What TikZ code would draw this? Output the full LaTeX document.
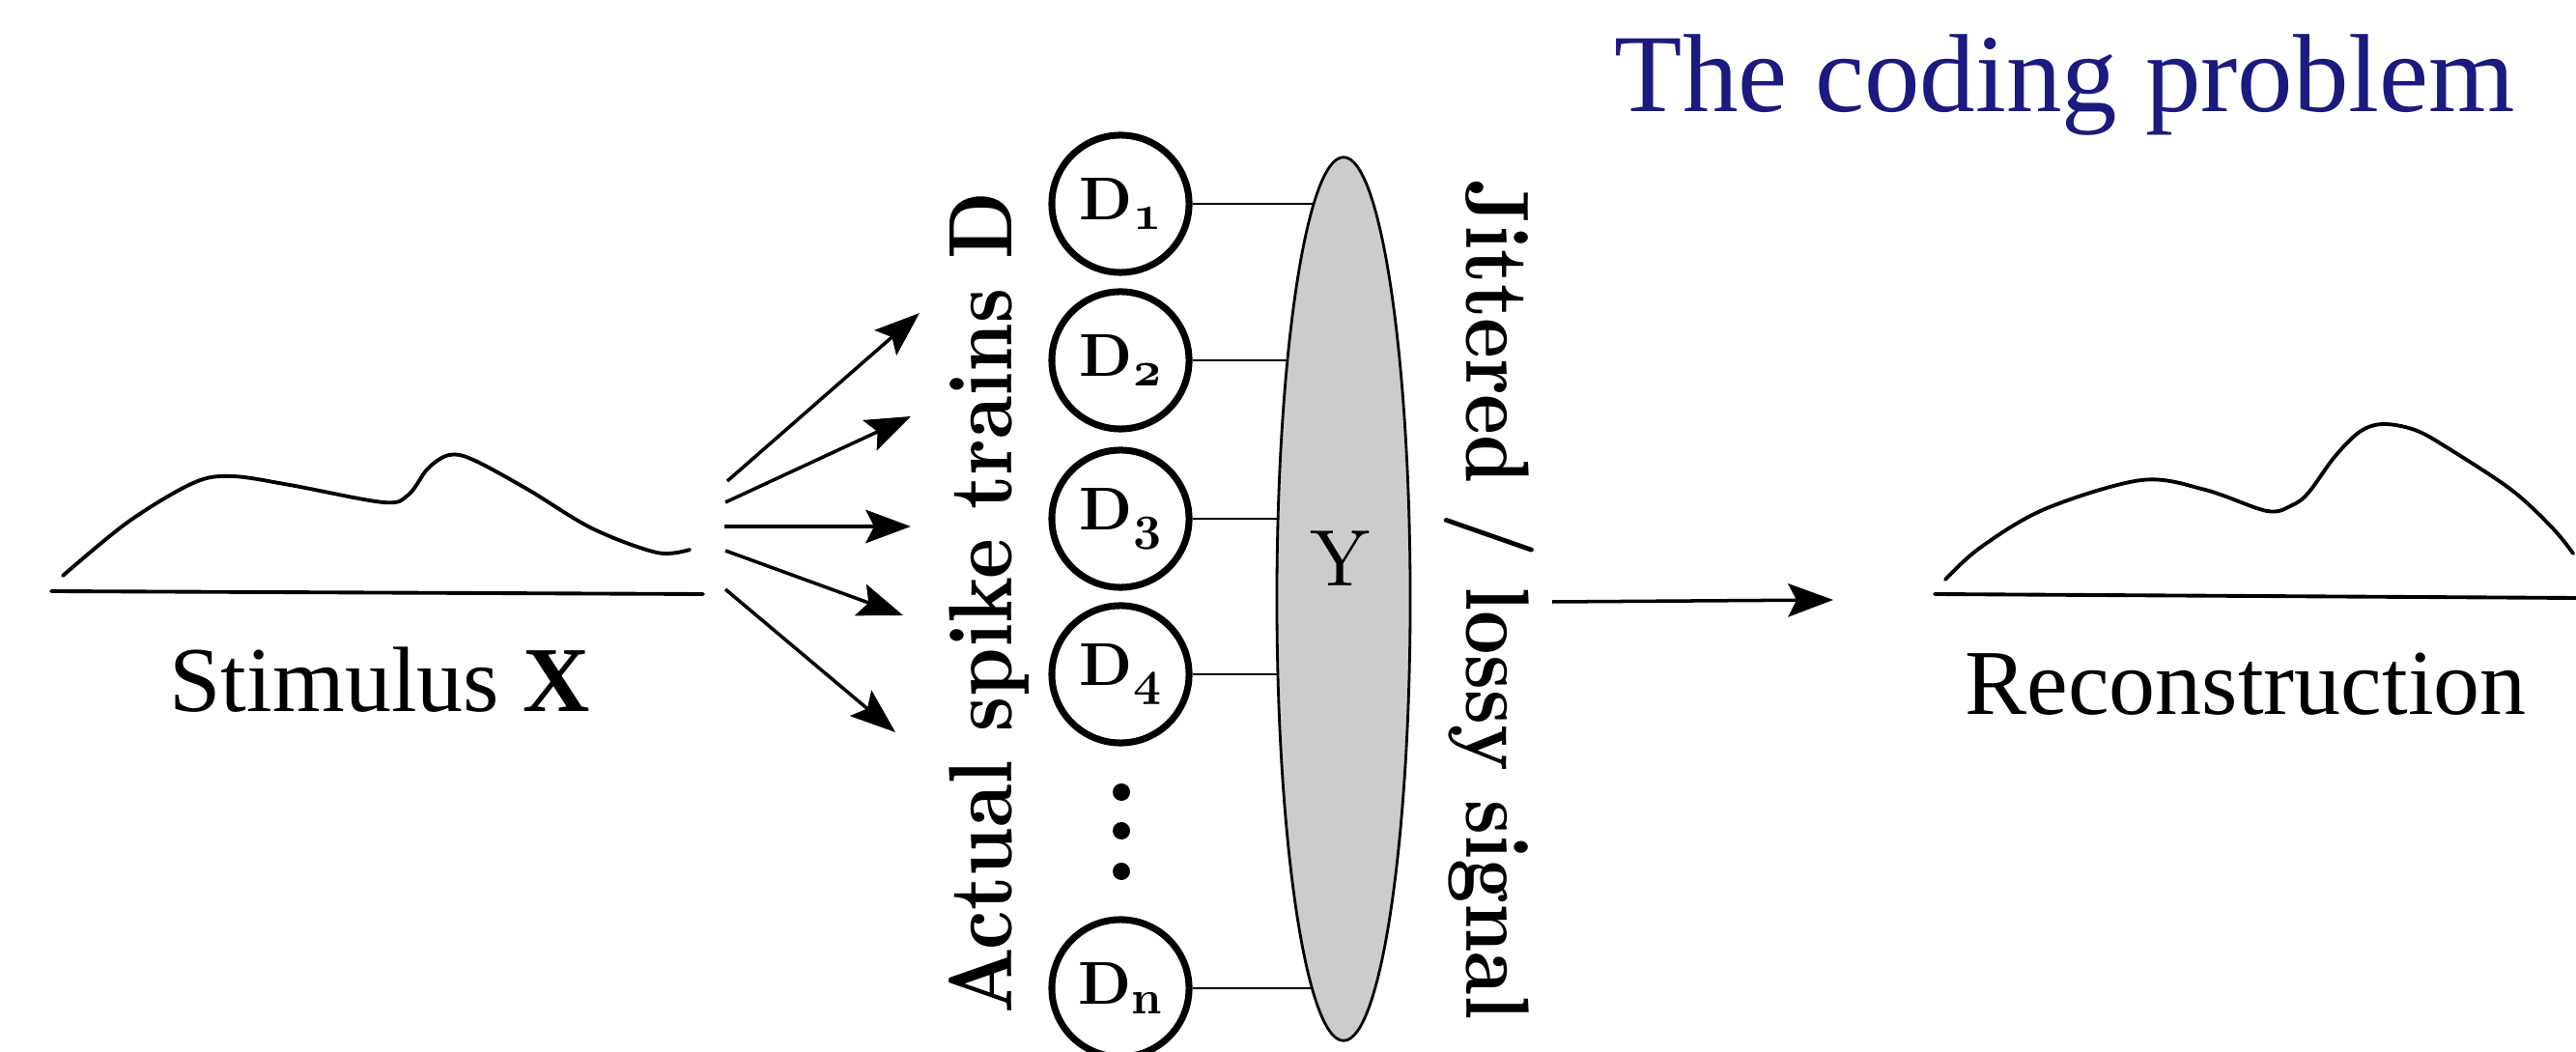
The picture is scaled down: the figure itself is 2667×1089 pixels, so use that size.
\documentclass[tikz,border=0pt]{standalone}
\usepackage{fontspec}
\newfontfamily\tnr{Liberation Serif}
\newfontfamily\lmbx[Extension=.otf]{lmroman10-bold}
\newfontfamily\lmr[Extension=.otf]{lmroman10-regular}
\usetikzlibrary{shapes.geometric,arrows.meta,backgrounds}
\definecolor{titleblue}{RGB}{27,26,126}
\newcommand\dsub[1]{\raisebox{-2.8pt}{\fontsize{14}{16}\selectfont #1}}
\newcommand\osn[1]{{\fontencoding{OML}\fontfamily{cmm}\fontseries{b}\fontshape{it}\selectfont #1}}
\begin{document}
\begin{tikzpicture}[x=0.01cm,y=-0.01cm,
  curve/.style={line width=1.1pt, line cap=round, line join=round},
  fan/.style={line width=1pt, -{Stealth[length=13.3pt,width=9.8pt,inset=2.5pt]}},
  neuron/.style={circle, draw, line width=2pt, minimum size=1.42cm, inner sep=0pt,
    font=\lmbx\fontsize{17.8}{20}\selectfont},
  link/.style={line width=0.8pt},
  vlabel/.style={font=\lmbx\fontsize{26.5}{30}\selectfont, inner sep=0pt, anchor=base},
  serif/.style={font=\tnr\fontsize{27.3}{30}\selectfont, inner sep=0pt, anchor=base}
]
\useasboundingbox (0,0) rectangle (2667,1089);

% title
\node[font=\tnr\fontsize{32.7}{36}\selectfont, text=titleblue, inner sep=0pt, anchor=base] (title) at (2138,116) {The coding problem};

% stimulus
\draw[curve] plot[smooth, tension=0.55] coordinates {(65,596) (133,540) (200,500) (240,493) (300,502) (397,520) (423,512) (443,485) (465,471) (490,476) (547,507) (613,547) (680,572) (714,569)};
\draw[curve] (53,612) -- (728,615);
\node[serif] (stim) at (393,737) {Stimulus \textbf{X}};

% fan of arrows
\coordinate (s1) at (753,498); \coordinate (t1) at (952,324);
\coordinate (s2) at (751,520); \coordinate (t2) at (943,431);
\coordinate (s3) at (750,545); \coordinate (t3) at (943,545);
\coordinate (s4) at (751,570); \coordinate (t4) at (935,637);
\coordinate (s5) at (751,610); \coordinate (t5) at (927,758);
\foreach \i in {1,...,5} \draw[fan] (s\i) -- (t\i);

% vertical label left
\node[vlabel, rotate=90] (actual) at (1047,624) {\scalebox{0.85}[1]{Actual spike trains D}};

% neurons
\node[neuron] (D1) at (1160,211) {D\dsub{\osn{1}}};
\node[neuron] (D2) at (1160,373) {D\dsub{\osn{2}}};
\node[neuron] (D3) at (1160,537) {D\dsub{\osn{3}}};
\node[neuron] (D4) at (1160,698) {D\dsub{\osn{4}}};
\node[neuron] (Dn) at (1160,1023) {D\dsub{n}};
\fill (1161,820) circle[radius=0.09cm];
\fill (1161,860) circle[radius=0.09cm];
\fill (1161,902) circle[radius=0.09cm];

% ellipse Y
\node[ellipse, draw, line width=0.8pt, fill=black!20, minimum width=1.38cm, minimum height=9.14cm, inner sep=0pt] (Y) at (1391,620) {};
\node[font=\lmr\fontsize{23.6}{26}\selectfont, inner sep=0pt] (Ylab) at (1388,578) {Y};
\begin{scope}[on background layer]
  \foreach \n in {D1,D2,D3,D4,Dn} \draw[link] (\n.east) -- (\n.east -| Y.center);
\end{scope}

% vertical label right
\node[vlabel, rotate=-90] (jitter) at (1518,621) {\scalebox{0.85}[1]{Jittered / lossy signal}};

% arrow to reconstruction
\coordinate (r0) at (1607,623); \coordinate (r1) at (1898,621);
\draw[fan] (r0) -- (r1);

% reconstruction
\draw[curve] plot[smooth, tension=0.55] coordinates {(2014,600) (2050,567) (2117,527) (2217,497) (2283,507) (2347,529) (2373,523) (2390,510) (2417,473) (2443,447) (2467,439) (2500,445) (2533,463) (2600,507) (2643,547) (2664,573)};
\draw[curve] (2003,615) -- (2667,619);
\node[serif] (recon) at (2325,740) {Reconstruction};
\end{tikzpicture}
\end{document}
